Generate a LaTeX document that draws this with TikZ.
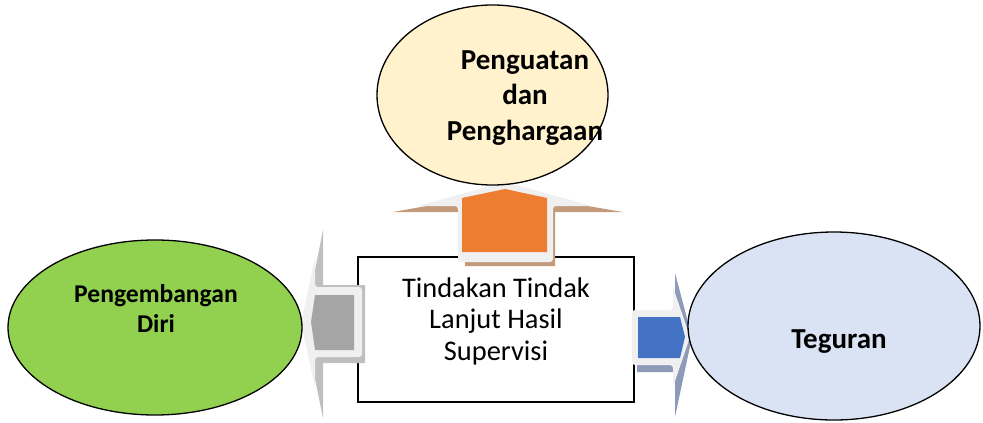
\documentclass[tikz,border=0pt]{standalone}
\usepackage{fontspec}
\setmainfont{Carlito}
\usetikzlibrary{shapes.geometric}
\definecolor{topfill}{HTML}{FFF2CC}
\definecolor{leftfill}{HTML}{92D050}
\definecolor{rightfill}{HTML}{DAE3F3}
\definecolor{orangeA}{HTML}{ED7D31}
\definecolor{grayA}{HTML}{A5A5A5}
\definecolor{blueA}{HTML}{4472C4}
\definecolor{rim}{HTML}{F0F0F0}
\definecolor{shadowO}{HTML}{C49A7C}
\definecolor{shadowG}{HTML}{BFBFBF}
\definecolor{shadowB}{HTML}{8E9BB8}
\tikzset{
  oval/.style={ellipse, draw=black, line width=1.3pt, inner sep=0pt},
  rimshape/.style={fill=rim, rounded corners=3pt},
  lbl/.style={align=center, anchor=base, inner sep=0pt},
}
\begin{document}
\begin{tikzpicture}[x=1pt,y=-1pt]
\useasboundingbox (0,0) rectangle (983,423);
% central box
\node[draw=black, fill=white, line width=1.2pt, minimum width=276pt, minimum height=145pt, inner sep=0pt] (box) at (496,329.5) {};
\node[lbl, font=\fontsize{28.4}{31.5}\selectfont] (boxtxt) at (496,360) {Tindakan Tindak\\Lanjut Hasil\\Supervisi};
% up arrow
\fill[shadowO] (393,212) -- (505,192) -- (623,212) -- (555,212) -- (555,266) -- (465,266) -- (465,212) -- cycle;
\fill[rimshape] (418,206) -- (505,182) -- (592,206) -- (553,206) -- (553,262) -- (458,262) -- (458,206) -- cycle;
\fill[orangeA] (462,198) -- (505,189) -- (547,198) -- (547,252) -- (462,252) -- cycle;
% left arrow
\fill[shadowG] (323,230) -- (323,285) -- (365,285) -- (365,363) -- (323,363) -- (323,418) -- (304,325) -- cycle;
\fill[rimshape] (315,257) -- (315,287) -- (362,287) -- (362,357) -- (315,357) -- (315,388) -- (301,323) -- cycle;
\fill[grayA] (315,295) -- (354,295) -- (354,350) -- (315,350) -- (311,322) -- cycle;
% right arrow
\fill[shadowB] (675,273) -- (692,337) -- (675,417) -- (675,372) -- (637,372) -- (637,316) -- (675,316) -- cycle;
\fill[rimshape] (673,287) -- (690,337) -- (673,387) -- (673,365) -- (632,365) -- (632,310) -- (673,310) -- cycle;
\fill[blueA] (638,317) -- (680,317) -- (685,337) -- (680,358) -- (638,358) -- cycle;
% ellipses
\node[oval, fill=topfill, minimum width=231pt, minimum height=180pt] (top) at (492.5,95) {};
\node[lbl, font=\bfseries\fontsize{29}{35.5}\selectfont] (toptxt) at (525,140) {Penguatan\\dan\\Penghargaan};
\node[oval, fill=leftfill, minimum width=294pt, minimum height=175pt] (left) at (155,327.5) {};
\node[lbl, font=\bfseries\fontsize{25.6}{30}\selectfont] (lefttxt) at (156,332) {Pengembangan\\Diri};
\node[oval, fill=rightfill, minimum width=292pt, minimum height=188pt] (right) at (834,326) {};
\node[lbl, font=\bfseries\fontsize{29}{30}\selectfont] (righttxt) at (839,348) {Teguran};
\end{tikzpicture}
\end{document}
